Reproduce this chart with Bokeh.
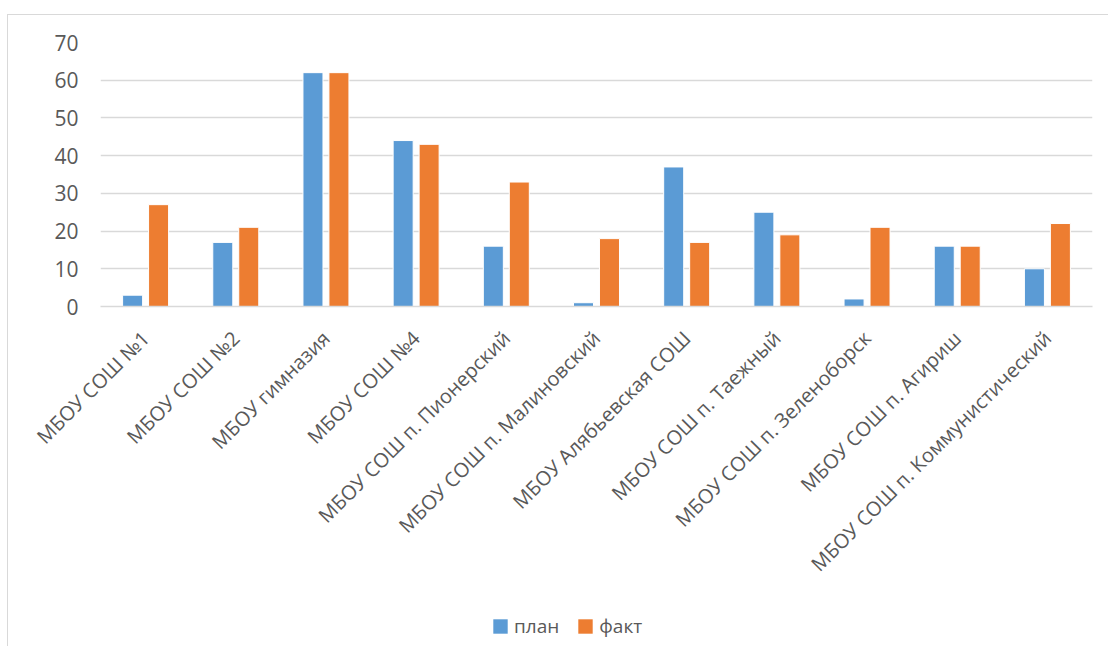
from bokeh.plotting import figure
from bokeh.models import ColumnDataSource, Range1d, FixedTicker, Legend, LegendItem
from bokeh.layouts import column
from bokeh.transform import dodge
from bokeh.embed import file_html
from bokeh.resources import INLINE
import math

categories = [
    "МБОУ СОШ №1",
    "МБОУ СОШ №2",
    "МБОУ гимназия",
    "МБОУ СОШ №4",
    "МБОУ СОШ п. Пионерский",
    "МБОУ СОШ п. Малиновский",
    "МБОУ Алябьевская СОШ",
    "МБОУ СОШ п. Таежный",
    "МБОУ СОШ п. Зеленоборск",
    "МБОУ СОШ п. Агириш",
    "МБОУ СОШ п. Коммунистический",
]
plan = [3, 17, 62, 44, 16, 1, 37, 25, 2, 16, 10]
fact = [27, 21, 62, 43, 33, 18, 17, 19, 21, 16, 22]
y_ticks = [0, 10, 20, 30, 40, 50, 60, 70]
series_names = ["план", "факт"]

BLUE = "#5B9BD5"
ORANGE = "#ED7D31"
GRID = "#D9D9D9"
TEXT = "#595959"
FONT = "Open Sans"

source = ColumnDataSource(dict(cat=categories, plan=plan, fact=fact))

p = figure(
    x_range=categories,
    y_range=Range1d(0, 70),
    width=1100,
    height=591,
    output_backend="svg",
    toolbar_location=None,
    min_border_left=92,
    min_border_right=16,
    min_border_top=27,
    min_border_bottom=300,
)

p.vbar(x=dodge("cat", -0.144, range=p.x_range), top="plan", width=0.222, source=source,
       fill_color=BLUE, line_color="white", line_width=1)
p.vbar(x=dodge("cat", 0.144, range=p.x_range), top="fact", width=0.222, source=source,
       fill_color=ORANGE, line_color="white", line_width=1)

p.outline_line_color = None
p.xgrid.grid_line_color = None
p.ygrid.grid_line_color = GRID
p.ygrid.grid_line_width = 1.5
p.yaxis.ticker = FixedTicker(ticks=y_ticks)

p.yaxis.axis_line_color = None
p.yaxis.major_tick_line_color = None
p.yaxis.minor_tick_line_color = None
p.yaxis.major_tick_out = 0
p.yaxis.major_label_standoff = 22
p.yaxis.major_label_text_font = FONT
p.yaxis.major_label_text_font_size = "21px"
p.yaxis.major_label_text_color = TEXT

p.xaxis.axis_line_color = GRID
p.xaxis.axis_line_width = 1.5
p.xaxis.major_tick_line_color = None
p.xaxis.major_tick_out = 0
p.xaxis.major_label_standoff = 28
p.xaxis.major_label_orientation = math.pi / 4
p.xaxis.major_label_text_font = FONT
p.xaxis.major_label_text_font_size = "20px"
p.xaxis.major_label_text_color = TEXT

# legend strip below the chart (same series, drawn outside its visible range)
pl = figure(
    x_range=categories,
    y_range=Range1d(100, 101),
    width=1100,
    height=40,
    output_backend="svg",
    toolbar_location=None,
    x_axis_location=None,
    y_axis_location=None,
    min_border=0,
)
pl.outline_line_color = None
pl.grid.grid_line_color = None
l1 = pl.rect(x="cat", y="plan", width=0.222, height=1, source=source,
             fill_color=BLUE, line_color=None)
l2 = pl.rect(x="cat", y="fact", width=0.222, height=1, source=source,
             fill_color=ORANGE, line_color=None)

lg = Legend(items=[LegendItem(label=series_names[0], renderers=[l1]),
                   LegendItem(label=series_names[1], renderers=[l2])])
lg.location = (391, 7)
lg.orientation = "horizontal"
lg.border_line_color = None
lg.background_fill_alpha = 0
lg.glyph_width = 18
lg.glyph_height = 18
lg.label_height = 20
lg.label_text_font = FONT
lg.label_text_font_size = "19px"
lg.label_text_color = TEXT
lg.padding = 0
lg.margin = 0
lg.spacing = 17
lg.label_standoff = 5
pl.add_layout(lg, "center")

layout = column(p, pl, spacing=0)
layout.styles = {"border-top": "1px solid #D9D9D9", "border-left": "1px solid #D9D9D9",
                 "margin-top": "14px", "margin-left": "7px"}

open("out.html", "w").write(file_html(layout, INLINE))
